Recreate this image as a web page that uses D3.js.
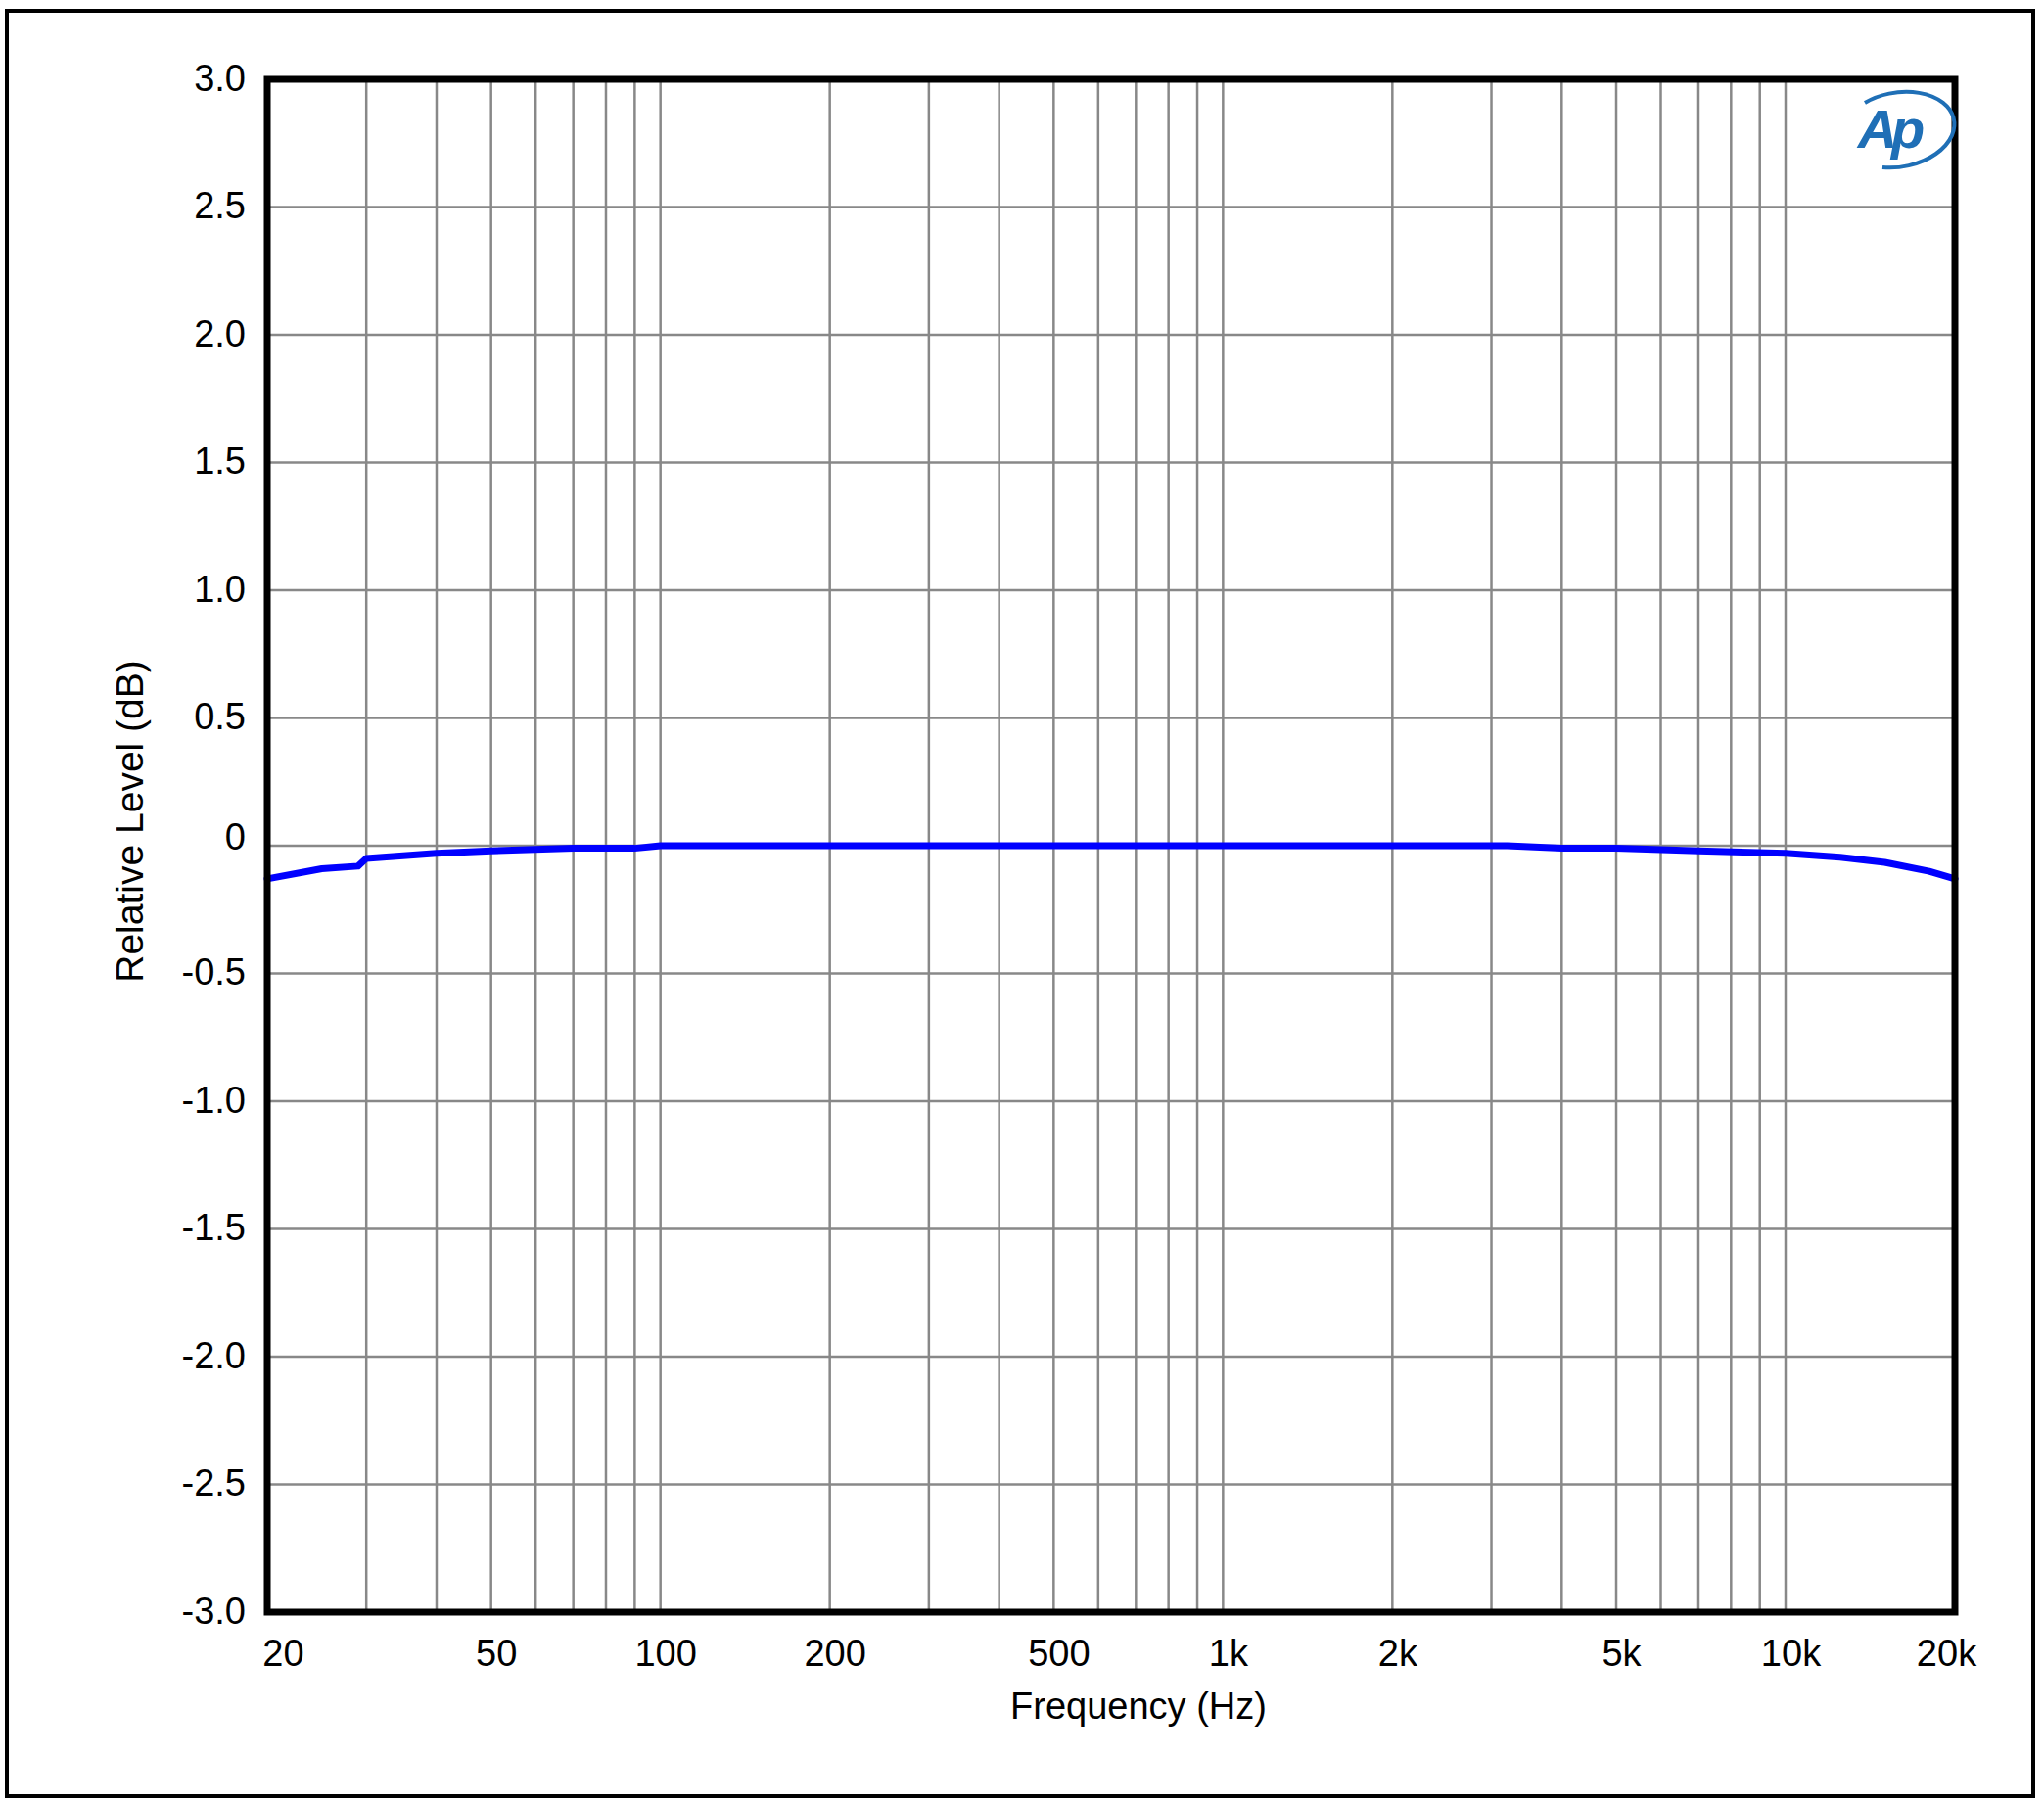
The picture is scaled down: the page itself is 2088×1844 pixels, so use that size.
<!DOCTYPE html>
<html><head><meta charset="utf-8">
<script src="https://cdn.jsdelivr.net/npm/d3@7"></script>
<style>body{margin:0;background:#fff}svg{display:block}text{font-family:"Liberation Sans",Arial,sans-serif}</style>
</head><body>
<script>
const freqs = [20, 25, 29, 30, 40, 50, 70, 90, 100, 200, 500, 1000, 2000, 3200, 4000, 5000, 7000, 10000, 12500, 15000, 18000, 20000];
const levels = [-0.13, -0.09, -0.08, -0.05, -0.03, -0.02, -0.01, -0.01, 0, 0, 0, 0, 0, 0, -0.01, -0.01, -0.02, -0.03, -0.045, -0.065, -0.1, -0.13];
const xTickValues = [20, 50, 100, 200, 500, 1000, 2000, 5000, 10000, 20000];
const xTickLabels = ["20", "50", "100", "200", "500", "1k", "2k", "5k", "10k", "20k"];
const yTickValues = [3, 2.5, 2, 1.5, 1, 0.5, 0, -0.5, -1, -1.5, -2, -2.5, -3];
const yTickLabels = ["3.0", "2.5", "2.0", "1.5", "1.0", "0.5", "0", "-0.5", "-1.0", "-1.5", "-2.0", "-2.5", "-3.0"];
const xGrid = [30,40,50,60,70,80,90,100,200,300,400,500,600,700,800,900,1000,2000,3000,4000,5000,6000,7000,8000,9000,10000];

const W = 2088, H = 1844;
const L = 273, R = 1997, T = 81, B = 1647;
const svg = d3.select("body").append("svg").attr("width", W).attr("height", H);
svg.append("rect").attr("x", 7).attr("y", 11).attr("width", 2070).attr("height", 1824)
  .attr("fill", "none").attr("stroke", "#000").attr("stroke-width", 4);

const x = d3.scaleLog().domain([20, 20000]).range([L, R]);
const y = d3.scaleLinear().domain([-3, 3]).range([B, T]);

const g = svg.append("g");
g.selectAll("line.vg").data(xGrid).join("line").attr("x1", d => x(d)).attr("x2", d => x(d))
  .attr("y1", T).attr("y2", B).attr("stroke", "#888").attr("stroke-width", 2.5);
g.selectAll("line.hg").data(yTickValues).join("line").attr("y1", d => y(d)).attr("y2", d => y(d))
  .attr("x1", L).attr("x2", R).attr("stroke", "#888").attr("stroke-width", 2.5);

const xAxis = d3.axisBottom(x).tickValues(xTickValues).tickFormat((d, i) => xTickLabels[i]).tickSize(0).tickPadding(28);
const xa = svg.append("g").attr("transform", `translate(0,${B})`).call(xAxis);
xa.select(".domain").remove();
xa.selectAll("text").attr("font-size", 38).attr("fill", "#000")
  .attr("dx", (d, i) => i === 0 ? 16 : (i === xTickLabels.length - 1 ? -9 : 5));

const yAxis = d3.axisLeft(y).tickValues(yTickValues).tickFormat((d, i) => yTickLabels[i]).tickSize(0).tickPadding(22);
const ya = svg.append("g").attr("transform", `translate(${L},0)`).call(yAxis);
ya.select(".domain").remove();
ya.selectAll("text").attr("font-size", 38).attr("fill", "#000").attr("dy", d => d === 0 ? "0.1em" : "0.3em");

const line = d3.line().x((d, i) => x(freqs[i])).y(d => y(d));
svg.append("path").datum(levels).attr("d", line).attr("fill", "none")
  .attr("stroke", "#0000ff").attr("stroke-width", 7).attr("stroke-linejoin", "round").attr("stroke-linecap", "round");

svg.append("rect").attr("x", L).attr("y", T).attr("width", R - L).attr("height", B - T)
  .attr("fill", "none").attr("stroke", "#000").attr("stroke-width", 7);

svg.append("text").attr("x", 1163).attr("y", 1756).attr("text-anchor", "middle")
  .attr("font-size", 38).text("Frequency (Hz)");
svg.append("text").attr("transform", `translate(146,839) rotate(-90)`).attr("text-anchor", "middle")
  .attr("font-size", 39).text("Relative Level (dB)");

// AP logo
const lg = svg.append("g").attr("transform", "translate(1935,133)");
lg.append("path").attr("d", "M-30,-28 A58,38 -10 1 1 -12,38").attr("fill", "none").attr("stroke", "#1f6fb6").attr("stroke-width", 4);
lg.append("text").attr("x", -6).attr("y", 18).attr("text-anchor", "middle").attr("font-size", 56)
  .attr("font-style", "italic").attr("font-weight", "bold").attr("fill", "#1f6fb6").attr("letter-spacing", -6).text("Ap");
</script>
</body></html>
